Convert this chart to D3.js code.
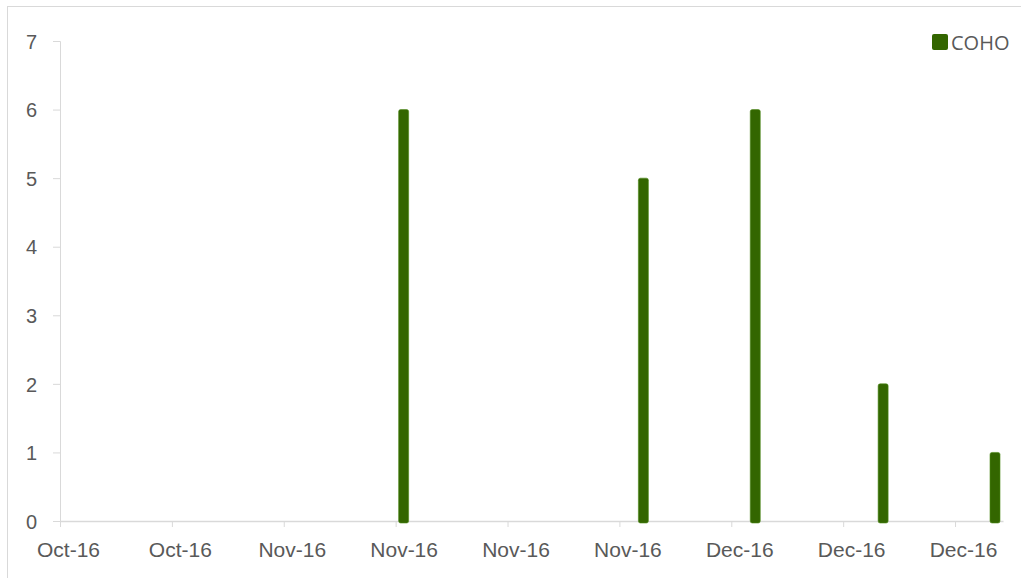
<!DOCTYPE html>
<html>
<head>
<meta charset="utf-8">
<script src="https://cdn.jsdelivr.net/npm/d3@7"></script>
<style>
  body { margin: 0; background: #fff; }
  svg { display: block; font-family: "Open Sans", sans-serif; }
</style>
</head>
<body>
<svg id="chart"></svg>
<script>
// catch dates and counts
const dates = ["2016-11-10", "2016-11-25", "2016-12-02", "2016-12-10", "2016-12-17"];
const coho = [6, 5, 6, 2, 1];
const yTicks = [0, 1, 2, 3, 4, 5, 6, 7];
const xTicks = ["2016-10-20", "2016-10-27", "2016-11-03", "2016-11-10", "2016-11-17",
                "2016-11-24", "2016-12-01", "2016-12-08", "2016-12-15"];
const seriesName = "COHO";

const width = 1021;
const height = 578;
const margin = {top: 41, right: 18, bottom: 57, left: 60};
const parse = d3.utcParse("%Y-%m-%d");
const data = dates.map((d, i) => ({date: parse(d), value: coho[i]}));

const svg = d3.select("#chart")
    .attr("width", width)
    .attr("height", height);

// chart border
svg.append("rect")
    .attr("x", 7.5).attr("y", 6.5)
    .attr("width", 1040).attr("height", 600)
    .attr("fill", "none")
    .attr("stroke", "#d9d9d9");

const x = d3.scaleUtc()
    .domain([parse("2016-10-20"), parse("2016-12-18")])
    .range([margin.left, width - margin.right]);

const y = d3.scaleLinear()
    .domain([0, 7])
    .range([height - margin.bottom, margin.top]);

const dayW = x(parse("2016-10-21")) - x(parse("2016-10-20"));
const fmt = d3.utcFormat("%b-%y");

// y axis
const yAxis = svg.append("g")
    .attr("transform", `translate(${margin.left},0)`)
    .call(d3.axisLeft(y).tickValues(yTicks).tickSize(7).tickPadding(16).tickFormat(d3.format("d")));
yAxis.select(".domain").attr("stroke", "#d9d9d9");
yAxis.selectAll(".tick line").attr("stroke", "#d9d9d9");
yAxis.selectAll("text").attr("fill", "#595959").style("font-size", "20px")
    .attr("dy", "0.36em");

// x axis (labels sit in the middle of their day slot)
const xAxis = svg.append("g")
    .attr("transform", `translate(0,${y(0)})`)
    .call(d3.axisBottom(x).tickValues(xTicks.map(parse)).tickSize(6).tickSizeOuter(0)
        .tickPadding(15).tickFormat(fmt));
xAxis.select(".domain").attr("stroke", "#d9d9d9").attr("stroke-width", 1.5);
xAxis.selectAll(".tick line").attr("stroke", "#d9d9d9");
xAxis.selectAll("text").attr("fill", "#595959").style("font-size", "21px")
    .attr("x", dayW / 2);

// bars
svg.append("g")
    .selectAll("rect")
    .data(data)
    .join("rect")
    .attr("x", d => x(d.date) + dayW / 2 - 5)
    .attr("y", d => y(d.value))
    .attr("width", 10)
    .attr("height", d => y(0) - y(d.value) + 2)
    .attr("rx", 2)
    .attr("fill", "#336600")
    .attr("stroke", "#4d8a1a")
    .attr("stroke-width", 0.6);

// legend
const legend = svg.append("g").attr("transform", "translate(932,34)");
legend.append("rect")
    .attr("width", 16).attr("height", 16).attr("rx", 2)
    .attr("fill", "#336600");
legend.append("text")
    .attr("x", 19).attr("y", 16)
    .attr("fill", "#595959")
    .style("font-size", "20px")
    .text(seriesName);
</script>
</body>
</html>
